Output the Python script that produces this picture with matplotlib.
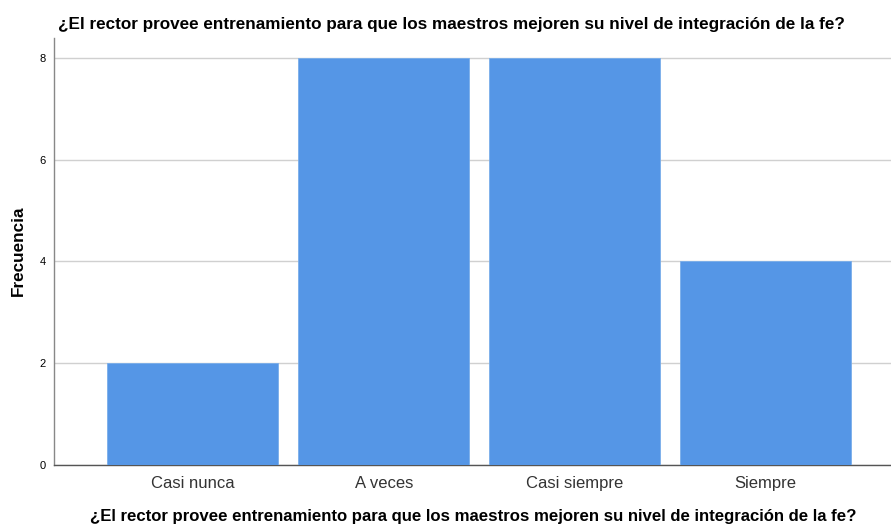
import matplotlib
matplotlib.use("Agg")
import matplotlib.pyplot as plt

categories = ["Casi nunca", "A veces", "Casi siempre", "Siempre"]
values = [2, 8, 8, 4]
yticks = [0, 2, 4, 6, 8]
title = "¿El rector provee entrenamiento para que los maestros mejoren su nivel de integración de la fe?"

plt.rcParams['font.family'] = ['Liberation Sans', 'DejaVu Sans']

fig = plt.figure(figsize=(8.91, 5.26), dpi=100)
W, H = 891, 526
ax = fig.add_axes([54 / W, 1 - 465 / H, (891 - 54) / W, (465 - 38) / H])

x = list(range(len(categories)))
ax.bar(x, values, width=0.895, color="#5596E6", edgecolor="#7aaeea", linewidth=0.6, zorder=3)
ax.set_xlim(-0.727, 3.657)
ax.set_ylim(0, 8.39)
ax.set_yticks(yticks)
ax.set_yticklabels([str(t) for t in yticks], fontsize=8)
ax.set_xticks(x)
ax.set_xticklabels(categories, fontsize=12, color="#333333")
ax.tick_params(axis='y', length=0, pad=6)
ax.tick_params(axis='x', length=0, pad=8)
ax.grid(axis='y', color="#d0d0d0", linewidth=1, zorder=0)
for s in ["top", "right"]:
    ax.spines[s].set_visible(False)
ax.spines["left"].set_color("#888888")
ax.spines["bottom"].set_color("#555555")
for s in ["left", "bottom"]:
    ax.spines[s].set_linewidth(1)

fig.text(58 / W, 1 - 24 / H, title, fontsize=12.3, fontweight='bold', ha='left', va='center')
fig.text(473 / W, 1 - 517 / H, title, fontsize=12.1, fontweight='bold', ha='center', va='center')
fig.text(18 / W, 1 - 251 / H, "Frecuencia", fontsize=12.3, fontweight='bold', rotation=90, ha='center', va='center')

fig.savefig("out.png", dpi=100)
